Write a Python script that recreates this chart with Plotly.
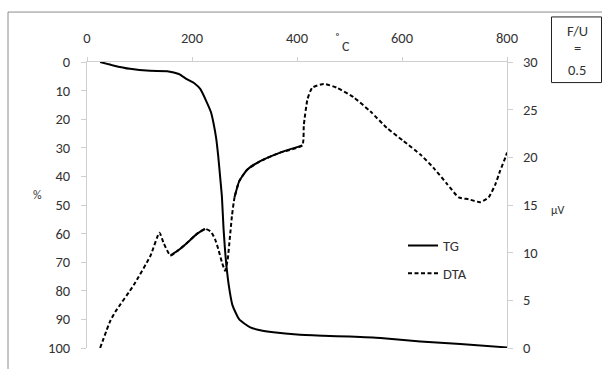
import plotly.graph_objects as go

# TG curve: temperature (°C) vs. mass loss (%)
tg_temp = [25, 50, 82, 120, 153, 175, 190, 205, 216, 228, 236, 241, 246, 250, 254,
           257, 260, 263, 266, 270, 277, 290, 311, 330, 355, 400, 450, 500, 559,
           635, 711, 800]
tg_pct = [0, 1.2, 2.4, 3.1, 3.2, 4.2, 6.0, 7.5, 9.5, 14.0, 17.5, 21.4, 26.6, 33.0,
          41.0, 47.2, 58.0, 66.0, 72.0, 78.0, 85.0, 90.0, 92.8, 93.8, 94.5, 95.3,
          95.7, 96.0, 96.5, 97.7, 98.6, 99.8]

# DTA curve: temperature (°C) vs. signal (µV)
dta_temp = [25, 44, 54, 89, 121, 138, 146, 159, 175, 190, 210, 225, 236, 244, 251,
            257, 263, 268, 272, 276, 281, 290, 305, 330, 368, 410, 413, 420, 429,
            451, 476, 508, 540, 571, 603, 635, 660, 686, 708, 727, 749, 765, 778,
            787, 797, 800]
dta_uv = [0, 2.8, 3.8, 6.6, 9.7, 12.1, 11.0, 9.7, 10.3, 11.0, 12.0, 12.5, 12.2,
          11.4, 10.2, 9.0, 8.1, 9.3, 11.5, 13.8, 15.8, 17.5, 18.7, 19.6, 20.5,
          21.25, 23.4, 26.1, 27.3, 27.7, 27.3, 26.3, 24.8, 23.1, 21.7, 20.3, 18.9,
          17.2, 15.8, 15.6, 15.3, 15.8, 17.2, 18.6, 20.0, 20.5]

# temperature spans where the densely sampled DTA line renders as solid
dense_spans = [(159, 225), (281, 410)]

x_ticks = [0, 200, 400, 600, 800]
left_ticks = list(range(0, 101, 10))
right_ticks = list(range(0, 31, 5))

FONT = "Carlito, Lato, sans-serif"
FS = 14.5
TXT = "#333333"
AX = "#cfcfcf"

fig = go.Figure()

fig.add_trace(go.Scatter(
    x=tg_temp, y=tg_pct, name="TG", mode="lines",
    line=dict(color="black", width=2, shape="spline", smoothing=0.5),
    legendgroup="tg", yaxis="y"))

fig.add_trace(go.Scatter(
    x=dta_temp, y=dta_uv, name="DTA", mode="lines",
    line=dict(color="black", width=2, dash="4px,2.5px", shape="spline", smoothing=0.5),
    legendgroup="dta", yaxis="y2"))

for lo, hi in dense_spans:
    xs = [t for t in dta_temp if lo <= t <= hi]
    ys = [v for t, v in zip(dta_temp, dta_uv) if lo <= t <= hi]
    fig.add_trace(go.Scatter(
        x=xs, y=ys, mode="lines", showlegend=False, hoverinfo="skip",
        line=dict(color="black", width=2, shape="spline", smoothing=0.5),
        yaxis="y2"))

W, H = 602, 369
ML, MR, MT, MB = 87, 95, 62, 15
PW, PH = W - ML - MR, H - MT - MB


def px_x(p):
    return (p - ML) / PW


def px_y(p):
    return (H - MB - p) / PH


fig.update_layout(
    width=W, height=H,
    margin=dict(l=ML, r=MR, t=MT, b=MB, pad=0),
    paper_bgcolor="white", plot_bgcolor="white",
    font=dict(family=FONT, size=FS, color=TXT),
    xaxis=dict(range=[0, 800], side="top", tickvals=x_ticks,
               showgrid=False, zeroline=False, showline=True, linecolor=AX,
               ticks="outside", ticklen=4, tickcolor=AX, ticklabelstandoff=8,
               tickfont=dict(size=FS, color=TXT)),
    yaxis=dict(range=[100, 0], tickvals=left_ticks, showgrid=False,
               zeroline=False, showline=True, linecolor=AX,
               ticks="outside", ticklen=5, tickcolor=AX, ticklabelstandoff=8,
               tickfont=dict(size=FS, color=TXT)),
    yaxis2=dict(range=[0, 30], tickvals=right_ticks, overlaying="y",
                side="right", showgrid=False, zeroline=False, showline=True,
                linecolor=AX, ticks="outside", ticklen=5, tickcolor=AX,
                ticklabelstandoff=7, tickfont=dict(size=FS, color=TXT)),
    legend=dict(x=px_x(403), y=px_y(233), xanchor="left", yanchor="top",
                bgcolor="rgba(0,0,0,0)", tracegroupgap=6,
                font=dict(size=FS, color=TXT)),
    showlegend=True,
)

# chart frame
fig.add_shape(type="rect", xref="paper", yref="paper",
              x0=px_x(8), x1=px_x(640), y0=px_y(400), y1=px_y(11),
              line=dict(color="#8c8c8c", width=1), layer="below")

# F/U box
fig.add_shape(type="rect", xref="paper", yref="paper",
              x0=px_x(551.5), x1=px_x(601.5), y0=px_y(83), y1=px_y(16),
              line=dict(color="#222222", width=1))


def label(txt, x, y, size=FS):
    fig.add_annotation(text=txt, xref="paper", yref="paper",
                       x=px_x(x), y=px_y(y), showarrow=False,
                       xanchor="center", yanchor="middle",
                       font=dict(size=size, color=TXT))


for txt, yy in [("F/U", 30), ("=", 48), ("0.5", 70)]:
    label(txt, 577, yy)

# axis unit labels
label("%", 37, 198, 12)
label("µV", 558, 213, 12)
label("˚", 337, 38, 15)
label("C", 346, 46, 14)

fig.write_html("out.html")
